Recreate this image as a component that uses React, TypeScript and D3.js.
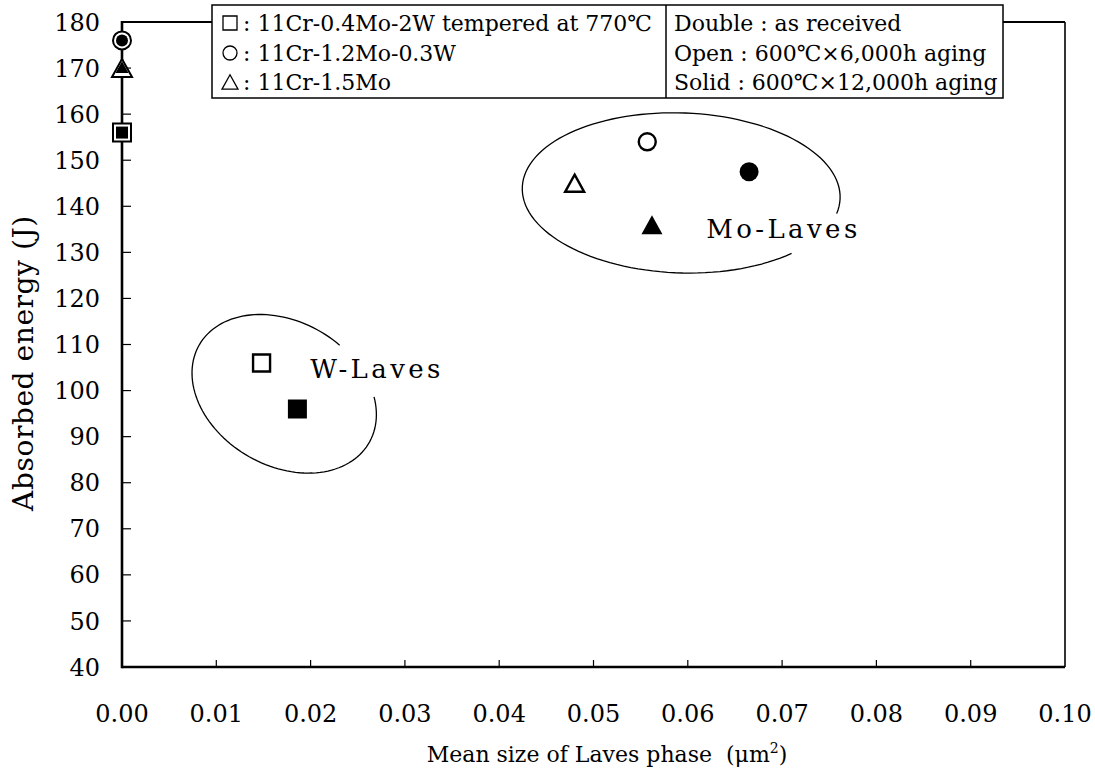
import React from "react";
import * as d3 from "d3";

// Alloys (marker shape) and aging conditions (marker style)
const alloyNames = ["11Cr-0.4Mo-2W tempered at 770℃", "11Cr-1.2Mo-0.3W", "11Cr-1.5Mo"];
const alloyShapes = ["square", "circle", "triangle"];
const conditionKeys = ["Double", "Open", "Solid"];
const conditionNames = ["as received", "600℃×6,000h aging", "600℃×12,000h aging"];
const conditionStyles = ["double", "open", "solid"];

// Mean Laves size (μm²) per alloy, per condition [as received, 6,000h, 12,000h]
const sizeSquare = [0, 0.0148, 0.0186];
const sizeCircle = [0, 0.0557, 0.0665];
const sizeTriangle = [0, 0.048, 0.0562];
// Absorbed energy (J)
const energySquare = [156, 106, 96];
const energyCircle = [176, 154, 147.5];
const energyTriangle = [170, 145, 136];

const xTicks = [0, 0.01, 0.02, 0.03, 0.04, 0.05, 0.06, 0.07, 0.08, 0.09, 0.1];
const yTicks = [40, 50, 60, 70, 80, 90, 100, 110, 120, 130, 140, 150, 160, 170, 180];

// Group annotations: label and ellipse centre in data units
const groupLabels = ["W-Laves", "Mo-Laves"];
const groupCenterX = [0.0172, 0.0593];
const groupCenterY = [99.3, 142.9];

const W = 1095;
const H = 776;
const M = { left: 122, right: 30, top: 22, bottom: 109 };
const FONT = "'DejaVu Serif', serif";

const x = d3.scaleLinear().domain([0, 0.1]).range([M.left, W - M.right]);
const y = d3.scaleLinear().domain([40, 180]).range([H - M.bottom, M.top]);

function shapePath(shape: string, s: number): string {
  if (shape === "square") {
    return `M${-s / 2},${-s / 2}h${s}v${s}h${-s}Z`;
  }
  if (shape === "triangle") {
    const h = s * 0.9;
    return `M0,${-h / 2}L${s / 2},${h / 2}L${-s / 2},${h / 2}Z`;
  }
  const r = s / 2;
  return `M${r},0A${r},${r} 0 1,1 ${-r},0A${r},${r} 0 1,1 ${r},0Z`;
}

function Marker({ shape, style, cx, cy }: { shape: string; style: string; cx: number; cy: number }) {
  const t = `translate(${cx},${cy})`;
  if (style === "solid") {
    const s = shape === "triangle" ? 21 : 19;
    return <path transform={t} d={shapePath(shape, s)} fill="#000" />;
  }
  if (style === "open") {
    const s = shape === "triangle" ? 19 : 17;
    return <path transform={t} d={shapePath(shape, s)} fill="#fff" stroke="#000" strokeWidth={2.4} />;
  }
  const outer = shape === "triangle" ? 20 : 18;
  const inner = shape === "triangle" ? 13 : 12;
  return (
    <g transform={t}>
      <path d={shapePath(shape, outer)} fill="#fff" stroke="#000" strokeWidth={2} />
      <path d={shapePath(shape, inner)} fill="#000" transform={shape === "triangle" ? "translate(0,-1)" : undefined} />
    </g>
  );
}

// Tilted ellipse drawn as an open arc (gap left for its label)
function ellipseArc(cx: number, cy: number, a: number, b: number, rotDeg: number, t0: number, t1: number) {
  const th = (rotDeg * Math.PI) / 180;
  const pts: [number, number][] = [];
  const n = 120;
  for (let i = 0; i <= n; i++) {
    const t = ((t0 + ((t1 - t0) * i) / n) * Math.PI) / 180;
    const u = a * Math.cos(t);
    const v = b * Math.sin(t);
    pts.push([cx + u * Math.cos(th) - v * Math.sin(th), cy + u * Math.sin(th) + v * Math.cos(th)]);
  }
  return d3.line()(pts) as string;
}

const ellipses = [
  { a: 98, b: 72, rot: 30, t0: -36, t1: 284 },
  { a: 159, b: 80, rot: 2, t0: 45, t1: 371 },
];
const labelPos = [
  { dx: 26, dy: -16 },
  { dx: 25, dy: 45 },
];

export default function App() {
  const series = [
    { shape: alloyShapes[0], xs: sizeSquare, ys: energySquare },
    { shape: alloyShapes[1], xs: sizeCircle, ys: energyCircle },
    { shape: alloyShapes[2], xs: sizeTriangle, ys: energyTriangle },
  ];
  const x0 = x(0);
  const x1 = x(0.1);
  const y0 = y(40);
  const y1 = y(180);

  const legLeft = 212;
  const legMid = 666;
  const legRight = 1003;
  const legTop = 5;
  const legBottom = 98;
  const rowY = [23, 53, 82];

  return (
    <svg width={W} height={H} style={{ position: "absolute", left: 0, top: 0, background: "#fff" }} fontFamily={FONT}>
      <rect width={W} height={H} fill="#fff" />

      {/* frame */}
      <line x1={x0} y1={y1} x2={x1} y2={y1} stroke="#000" strokeWidth={2} />
      <line x1={x1} y1={y1} x2={x1} y2={y0} stroke="#000" strokeWidth={1.6} />
      <line x1={x0} y1={y0} x2={x1} y2={y0} stroke="#000" strokeWidth={2.6} />
      <line x1={x0} y1={y1 - 1} x2={x0} y2={y0 + 1.3} stroke="#000" strokeWidth={2.6} />

      {/* y ticks and labels */}
      {yTicks.map((v) => (
        <g key={"y" + v}>
          {v > 40 && v < 180 && <line x1={x0} x2={x0 + 9} y1={y(v)} y2={y(v)} stroke="#000" strokeWidth={1.2} />}
          <text x={100} y={y(v)} dy="0.36em" textAnchor="end" fontSize={24}>
            {v}
          </text>
        </g>
      ))}

      {/* x ticks and labels */}
      {xTicks.map((v) => (
        <g key={"x" + v}>
          {v > 0 && v < 0.1 && <line x1={x(v)} x2={x(v)} y1={y0} y2={y0 - 7} stroke="#000" strokeWidth={1.2} />}
          <text x={x(v)} y={722} textAnchor="middle" fontSize={24}>
            {d3.format(".2f")(v)}
          </text>
        </g>
      ))}

      {/* axis titles */}
      <text x={607} y={762} textAnchor="middle" fontSize={22}>
        Mean size of Laves phase{"\u00a0\u00a0"}(μm<tspan dy={-9} fontSize={14}>2</tspan>
        <tspan dy={9}>)</tspan>
      </text>
      <text transform={`translate(33,363) rotate(-90)`} textAnchor="middle" fontSize={28} letterSpacing={0.6}>
        Absorbed energy (J)
      </text>

      {/* group ellipses and labels */}
      {groupLabels.map((lab, i) => {
        const cx = x(groupCenterX[i]);
        const cy = y(groupCenterY[i]);
        const e = ellipses[i];
        return (
          <g key={lab}>
            <path d={ellipseArc(cx, cy, e.a, e.b, e.rot, e.t0, e.t1)} fill="none" stroke="#000" strokeWidth={1.3} />
            <text x={cx + labelPos[i].dx + (i === 0 ? 0 : 0)} y={cy + labelPos[i].dy} fontSize={26} letterSpacing={3.4}
              dx={i === 0 ? 0 : 0}>
              {lab}
            </text>
          </g>
        );
      })}

      {/* data markers */}
      {series.map((s) =>
        s.xs.map((xv, j) => (
          <Marker key={s.shape + j} shape={s.shape} style={conditionStyles[j]} cx={x(xv)} cy={y(s.ys[j])} />
        ))
      )}

      {/* legend boxes */}
      <rect x={legLeft} y={legTop} width={legRight - legLeft} height={legBottom - legTop} fill="#fff" stroke="#000" strokeWidth={1.5} />
      <line x1={legMid} x2={legMid} y1={legTop} y2={legBottom} stroke="#000" strokeWidth={1.5} />
      {alloyNames.map((name, i) => (
        <g key={name}>
          <path
            transform={`translate(230,${rowY[i]})`}
            d={shapePath(alloyShapes[i], alloyShapes[i] === "triangle" ? 16 : 14)}
            fill="none"
            stroke="#000"
            strokeWidth={1.3}
          />
          <text x={243} y={rowY[i]} dy="0.36em" fontSize={22}>
            {" : " + name}
          </text>
        </g>
      ))}
      {conditionKeys.map((k, i) => (
        <text key={k} x={674} y={rowY[i]} dy="0.36em" fontSize={22}>
          {k + " : " + conditionNames[i]}
        </text>
      ))}
    </svg>
  );
}
